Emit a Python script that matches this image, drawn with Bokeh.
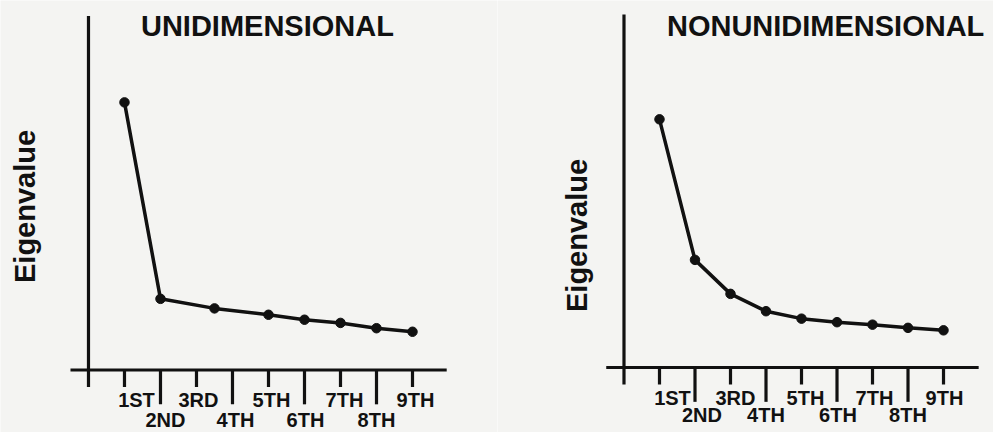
import math
from bokeh.plotting import figure
from bokeh.layouts import row
from bokeh.models import ColumnDataSource, Range1d
from bokeh.core.properties import value
from bokeh.embed import file_html
from bokeh.resources import INLINE

# ---------------- data ----------------
tick_positions = [1, 2, 3, 4, 5, 6, 7, 8, 9]
tick_labels = ["1ST", "2ND", "3RD", "4TH", "5TH", "6TH", "7TH", "8TH", "9TH"]

uni_x = [1, 2, 3.5, 5, 6, 7, 8, 9]
uni_y = [7.56, 2.01, 1.74, 1.56, 1.42, 1.33, 1.18, 1.08]

non_x = [1, 2, 3, 4, 5, 6, 7, 8, 9]
non_y = [7.01, 3.04, 2.08, 1.59, 1.38, 1.28, 1.21, 1.12, 1.05]

titles = ["UNIDIMENSIONAL", "NONUNIDIMENSIONAL"]
y_title = "Eigenvalue"

# ---------------- style ----------------
INK = "#111111"
PAPER = "#f4f4f2"
FONT = "Liberation Sans"
LW = 3.2


def panel(width, xr, yr, xs, ys, title, title_pos, ylab_pos, y_top, x_right,
          row_offsets, nudges):
    p = figure(width=width, height=432, x_range=Range1d(*xr), y_range=Range1d(*yr),
               output_backend="svg", toolbar_location=None, min_border=0)
    p.axis.visible = False
    p.grid.visible = False
    p.outline_line_color = None
    p.background_fill_color = PAPER
    p.border_fill_color = PAPER

    # axes drawn in data space
    p.segment(x0=[0], y0=[-0.48], x1=[0], y1=[y_top], line_color=INK, line_width=LW)
    p.segment(x0=[-0.5], y0=[0], x1=[x_right], y1=[0], line_color=INK, line_width=LW)

    # hanging ticks: odd short, even long
    tick_len = [0.48 if k % 2 == 1 else 0.97 for k in tick_positions]
    p.segment(x0=tick_positions, y0=[0] * len(tick_positions),
              x1=tick_positions, y1=[-t for t in tick_len],
              line_color=INK, line_width=LW)

    # tick labels in two rows
    odd = [i for i, k in enumerate(tick_positions) if k % 2 == 1]
    even = [i for i, k in enumerate(tick_positions) if k % 2 == 0]
    for idx, off in ((odd, row_offsets[0]), (even, row_offsets[1])):
        src = ColumnDataSource(dict(
            x=[tick_positions[i] for i in idx],
            y=[0] * len(idx),
            t=[tick_labels[i] for i in idx],
            dx=[nudges[i] for i in idx],
        ))
        p.text(x="x", y="y", text="t", source=src, x_offset="dx", y_offset=off,
               text_align="center", text_baseline="middle",
               text_font=value(FONT), text_font_style="bold",
               text_font_size="20px", text_color=INK)

    # data
    p.line(xs, ys, line_color=INK, line_width=LW + 0.3, line_join="round")
    p.scatter(xs, ys, size=9.5, fill_color=INK, line_color=INK)

    # title and y label
    p.text(x=[title_pos[0]], y=[title_pos[1]], text=[title],
           text_align="center", text_baseline="middle",
           text_font=value(FONT), text_font_style="bold",
           text_font_size="29px", text_color=INK)
    p.text(x=[ylab_pos[0]], y=[ylab_pos[1]], text=[y_title], angle=math.pi / 2,
           text_align="center", text_baseline="middle",
           text_font=value(FONT), text_font_style="bold",
           text_font_size="29px", text_color=INK)
    return p


left = panel(497, (-2.444, 11.361), (-1.766, 10.438), uni_x, uni_y, titles[0],
             (4.97, 9.73), (-1.75, 4.62), 10.0, 9.95, (30, 50),
             [12, 5, 2, 3, 3, 1, 4, 0, 3])
right = panel(496, (-3.563, 10.408), (-1.836, 10.367), non_x, non_y, titles[1],
              (5.68, 9.66), (-1.31, 3.73), 9.97, 9.99, (30, 47),
              [13, 7, 5, 0, 4, 1, 2, 0, 1])

layout = row(left, right, spacing=0)
html = file_html(layout, INLINE)
html = html.replace("<body>", '<body style="background:%s">' % PAPER, 1)
open("out.html", "w").write(html)
